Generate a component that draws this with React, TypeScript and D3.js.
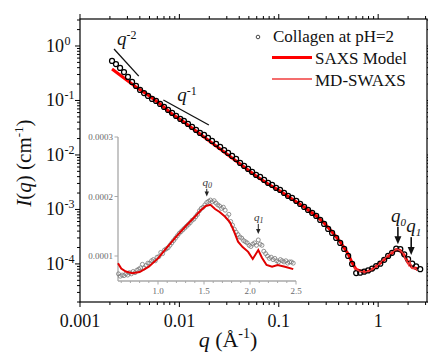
import * as d3 from "d3";
import React, { useEffect, useRef } from "react";

const W = 428;
const H = 353;

// experimental SAXS data, collagen at pH=2 (q in 1/A, I in 1/cm)
const expQ = [
  0.0021, 0.0023, 0.00253, 0.00277, 0.00304, 0.00334, 0.00366, 0.00402, 0.00441, 0.00484,
  0.00531, 0.00582, 0.00639, 0.00701, 0.00769, 0.00844, 0.00926, 0.0102, 0.0111, 0.0122,
  0.0134, 0.0147, 0.0161, 0.0177, 0.0194, 0.0213, 0.0234, 0.0257, 0.0282, 0.0309,
  0.0339, 0.0372, 0.0408, 0.0448, 0.0491, 0.0539, 0.0591, 0.0649, 0.0712, 0.0781,
  0.0857, 0.094, 0.103, 0.113, 0.124, 0.136, 0.15, 0.164, 0.18, 0.197,
  0.217, 0.238, 0.261, 0.286, 0.314, 0.344, 0.378, 0.415, 0.455, 0.499,
  0.547, 0.601, 0.659, 0.723, 0.793, 0.87, 0.955, 1.05, 1.15, 1.26,
  1.38, 1.52, 1.67, 1.83, 2.0, 2.2, 2.41, 2.65,
];
const expI = [
  0.531, 0.467, 0.395, 0.333, 0.27, 0.219, 0.185, 0.156, 0.137, 0.121,
  0.107, 0.0979, 0.0862, 0.076, 0.0669, 0.059, 0.0519, 0.0458, 0.0421, 0.0371,
  0.0326, 0.0288, 0.0253, 0.0233, 0.0205, 0.0181, 0.0159, 0.014, 0.0123, 0.0109,
  0.00959, 0.00845, 0.00713, 0.00628, 0.00553, 0.00488, 0.0043, 0.00395, 0.00348, 0.00306,
  0.00281, 0.00248, 0.00228, 0.00201, 0.00177, 0.00163, 0.00143, 0.00126, 0.00111, 0.000979,
  0.000862, 0.00076, 0.000642, 0.000542, 0.000439, 0.000371, 0.0003, 0.000243, 0.000188, 0.00014,
  0.0001, 0.000068, 0.000069, 0.000072, 0.000076, 0.000082, 0.000091, 0.000101, 0.000119, 0.00014,
  0.00016, 0.00019, 0.000186, 0.00015, 0.000122, 0.000101, 0.00009, 0.00008,
];

// SAXS model curve
const saxsQ = [
  0.0021, 0.00277, 0.00366, 0.00484, 0.00639, 0.00844, 0.0111, 0.0147, 0.0194, 0.0257,
  0.0339, 0.0448, 0.0591, 0.0781, 0.103, 0.136, 0.18, 0.238, 0.286, 0.344,
  0.415, 0.499, 0.547, 0.601, 0.659, 0.723, 0.793, 0.87, 0.955, 1.05,
  1.15, 1.26, 1.38, 1.52, 1.67, 1.83, 2.0, 2.2, 2.41, 2.5,
];
const saxsI = [
  0.378, 0.259, 0.177, 0.126, 0.0862, 0.0565, 0.0403, 0.0276, 0.0188, 0.0129,
  0.00881, 0.00603, 0.00412, 0.00294, 0.00218, 0.00156, 0.00111, 0.00076, 0.000565, 0.000386,
  0.000254, 0.000153, 0.000105, 0.000079, 0.0000745, 0.0000715, 0.000073, 0.000079, 0.00009, 0.000103,
  0.00012, 0.000138, 0.00016, 0.000183, 0.000175, 0.000143, 0.000105, 0.000086, 0.000083, 0.000078,
];

// MD-SWAXS curve (wide angle part)
const mdQ = [
  0.565, 0.6, 0.65, 0.72, 0.8, 0.9, 1.0, 1.1, 1.2, 1.3,
  1.4, 1.46, 1.52, 1.57, 1.62, 1.67, 1.73, 1.78, 1.82, 1.87,
  1.92, 1.98, 2.03, 2.09, 2.13, 2.18, 2.24, 2.3, 2.38, 2.47,
];
const mdI = [
  0.88e-4, 0.79e-4, 0.74e-4, 0.71e-4, 0.73e-4, 0.82e-4, 0.96e-4, 1.15e-4, 1.33e-4, 1.5e-4,
  1.66e-4, 1.76e-4, 1.84e-4, 1.86e-4, 1.79e-4, 1.74e-4, 1.66e-4, 1.57e-4, 1.44e-4, 1.24e-4,
  1.15e-4, 1.07e-4, 0.95e-4, 1.1e-4, 0.97e-4, 0.85e-4, 0.82e-4, 0.85e-4, 0.82e-4, 0.78e-4,
];

// inset: experimental points on linear scale
const insetQ = [
  0.57, 0.59, 0.61, 0.63, 0.65, 0.67, 0.69, 0.71, 0.73, 0.75,
  0.77, 0.79, 0.81, 0.83, 0.85, 0.87, 0.89, 0.91, 0.93, 0.95,
  0.97, 0.99, 1.01, 1.03, 1.05, 1.07, 1.09, 1.11, 1.13, 1.15,
  1.17, 1.19, 1.21, 1.23, 1.25, 1.27, 1.29, 1.31, 1.33, 1.35,
  1.37, 1.39, 1.41, 1.43, 1.45, 1.47, 1.49, 1.51, 1.53, 1.55,
  1.57, 1.59, 1.61, 1.63, 1.65, 1.67, 1.69, 1.71, 1.73, 1.75,
  1.77, 1.79, 1.81, 1.83, 1.85, 1.87, 1.89, 1.91, 1.93, 1.95,
  1.97, 1.99, 2.01, 2.03, 2.05, 2.07, 2.09, 2.11, 2.13, 2.15,
  2.17, 2.19, 2.21, 2.23, 2.25, 2.27, 2.29, 2.31, 2.33, 2.35,
  2.37, 2.39, 2.41, 2.43, 2.45, 2.47,
];
const insetI = [
  0.7e-4, 0.66e-4, 0.68e-4, 0.67e-4, 0.7e-4, 0.68e-4, 0.72e-4, 0.7e-4, 0.74e-4, 0.72e-4,
  0.76e-4, 0.78e-4, 0.8e-4, 0.86e-4, 0.8e-4, 0.84e-4, 0.88e-4, 0.88e-4, 0.92e-4, 0.94e-4,
  0.92e-4, 0.98e-4, 0.99e-4, 1.06e-4, 1.04e-4, 1.1e-4, 1.12e-4, 1.14e-4, 1.18e-4, 1.22e-4,
  1.26e-4, 1.3e-4, 1.34e-4, 1.38e-4, 1.41e-4, 1.44e-4, 1.47e-4, 1.5e-4, 1.53e-4, 1.56e-4,
  1.6e-4, 1.62e-4, 1.66e-4, 1.7e-4, 1.76e-4, 1.8e-4, 1.82e-4, 1.86e-4, 1.9e-4, 1.92e-4,
  1.94e-4, 1.91e-4, 1.93e-4, 1.89e-4, 1.86e-4, 1.84e-4, 1.8e-4, 1.82e-4, 1.77e-4, 1.66e-4,
  1.7e-4, 1.58e-4, 1.52e-4, 1.45e-4, 1.4e-4, 1.36e-4, 1.32e-4, 1.3e-4, 1.26e-4, 1.24e-4,
  1.22e-4, 1.18e-4, 1.16e-4, 1.2e-4, 1.22e-4, 1.18e-4, 1.27e-4, 1.2e-4, 1.18e-4, 1.08e-4,
  1.04e-4, 1.0e-4, 0.96e-4, 0.98e-4, 0.94e-4, 0.96e-4, 0.92e-4, 0.9e-4, 0.94e-4, 0.92e-4,
  0.9e-4, 0.92e-4, 0.88e-4, 0.9e-4, 0.9e-4, 0.88e-4,
];

const xTickVals = [0.001, 0.01, 0.1, 1];
const xTickLabels = ["0.001", "0.01", "0.1", "1"];
const yTickExps = [0, -1, -2, -3, -4];
const insetXTicks = [1.0, 1.5, 2.0, 2.5];
const insetYTicks = [0.0001, 0.0002, 0.0003];
const legendLabels = ["Collagen at pH=2", "SAXS Model", "MD-SWAXS"];

// power law guides
const guideExp = [-2, -1];
const guideQ0 = [0.0022, 0.0069];
const guideQ1 = [0.0039, 0.0198];
const guideI0 = [0.88, 0.102];

// peak markers q0, q1
const peakNames = ["0", "1"];
const mainPeakQ = [1.58, 2.15];
const mainTailI = [4.8e-4, 3.1e-4];
const mainTipI = [2.3e-4, 1.46e-4];
const insetPeakQ = [1.53, 2.09];
const insetTailI = [2.13e-4, 1.54e-4];
const insetTipI = [2.0e-4, 1.37e-4];

const FONT = "'Liberation Serif', 'Times New Roman', serif";

export default function App() {
  const ref = useRef<SVGSVGElement>(null);

  useEffect(() => {
    const svg = d3.select(ref.current);
    svg.selectAll("*").remove();
    svg.attr("font-family", FONT);

    const L = 80, R = 427, T = 19, B = 302;
    const x = d3.scaleLog().domain([0.001, 3.1]).range([L, R]);
    const y = d3.scaleLog().domain([2.0e-5, 3.13]).range([B, T]);

    const isMajor = (v: number) =>
      Math.abs(Math.log10(v) - Math.round(Math.log10(v))) < 1e-6;

    // ticks on all four sides, outward
    const ticks = svg.append("g").attr("stroke", "#000").attr("stroke-width", 1);
    x.ticks().forEach((v) => {
      const len = isMajor(v) ? 5 : 3;
      const px = x(v);
      ticks.append("line").attr("x1", px).attr("x2", px).attr("y1", B).attr("y2", B + len);
      ticks.append("line").attr("x1", px).attr("x2", px).attr("y1", T).attr("y2", T - len);
    });
    y.ticks().forEach((v) => {
      const len = isMajor(v) ? 5 : 3;
      const py = y(v);
      ticks.append("line").attr("y1", py).attr("y2", py).attr("x1", L).attr("x2", L - len);
      ticks.append("line").attr("y1", py).attr("y2", py).attr("x1", R).attr("x2", R + len);
    });

    svg
      .append("rect")
      .attr("x", L)
      .attr("y", T)
      .attr("width", R - L)
      .attr("height", B - T)
      .attr("fill", "none")
      .attr("stroke", "#000")
      .attr("stroke-width", 1.2);

    // tick labels
    xTickVals.forEach((v, i) => {
      svg
        .append("text")
        .attr("x", x(v))
        .attr("y", 327)
        .attr("text-anchor", "middle")
        .attr("font-size", 18)
        .attr("fill", "#111")
        .text(xTickLabels[i]);
    });
    yTickExps.forEach((e) => {
      const py = y(Math.pow(10, e));
      svg
        .append("text")
        .attr("x", 64)
        .attr("y", py + 6)
        .attr("text-anchor", "end")
        .attr("font-size", 18)
        .attr("fill", "#111")
        .text("10");
      svg
        .append("text")
        .attr("x", 64.5)
        .attr("y", py - 1)
        .attr("font-size", 12)
        .attr("fill", "#111")
        .text(String(e));
    });

    // axis titles
    const xt = svg
      .append("text")
      .attr("x", 228)
      .attr("y", 347)
      .attr("text-anchor", "middle")
      .attr("font-size", 22)
      .attr("fill", "#111");
    xt.append("tspan").attr("font-style", "italic").text("q");
    xt.append("tspan").text(" (Å");
    xt.append("tspan").attr("dy", -9).attr("font-size", 14).text("-1");
    xt.append("tspan").attr("dy", 9).text(")");

    const yt = svg
      .append("text")
      .attr("transform", "translate(31,163) rotate(-90)")
      .attr("text-anchor", "middle")
      .attr("font-size", 21)
      .attr("fill", "#111");
    yt.append("tspan").attr("font-style", "italic").text("I");
    yt.append("tspan").text("(");
    yt.append("tspan").attr("font-style", "italic").text("q");
    yt.append("tspan").text(") (cm");
    yt.append("tspan").attr("dy", -8).attr("font-size", 13).text("-1");
    yt.append("tspan").attr("dy", 8).text(")");

    // main curves
    const lineMain = d3
      .line<[number, number]>()
      .x((d) => x(d[0]))
      .y((d) => y(d[1]));

    const saxs = saxsQ.map((q, i) => [q, saxsI[i]] as [number, number]);
    const md = mdQ.map((q, i) => [q, mdI[i]] as [number, number]);
    const exp = expQ.map((q, i) => [q, expI[i]] as [number, number]);

    svg
      .append("path")
      .attr("d", lineMain(saxs))
      .attr("fill", "none")
      .attr("stroke", "#ff0000")
      .attr("stroke-width", 3);

    svg
      .append("g")
      .selectAll("circle")
      .data(exp)
      .enter()
      .append("circle")
      .attr("cx", (d) => x(d[0]))
      .attr("cy", (d) => y(d[1]))
      .attr("r", 2.5)
      .attr("fill", "none")
      .attr("stroke", "#000")
      .attr("stroke-width", 1.25);

    svg
      .append("path")
      .attr("d", lineMain(md))
      .attr("fill", "none")
      .attr("stroke", "#f03c3c")
      .attr("stroke-width", 1.3);

    // power-law guides
    const guideLbl = [
      { dx: 3, dy: -4 },
      { dx: 14, dy: 1 },
    ];
    guideExp.forEach((ex, i) => {
      const q0 = guideQ0[i], q1 = guideQ1[i];
      const i0 = guideI0[i];
      const i1 = i0 * Math.pow(q1 / q0, ex);
      svg
        .append("line")
        .attr("x1", x(q0))
        .attr("y1", y(i0))
        .attr("x2", x(q1))
        .attr("y2", y(i1))
        .attr("stroke", "#111")
        .attr("stroke-width", 1.3);
      const t = svg
        .append("text")
        .attr("x", x(q0) + guideLbl[i].dx)
        .attr("y", y(i0) + guideLbl[i].dy)
        .attr("font-size", 19)
        .attr("fill", "#111");
      t.append("tspan").attr("font-style", "italic").text("q");
      t.append("tspan").attr("dy", -6).attr("font-size", 12).text(String(ex));
    });

    // arrows helper
    const arrow = (
      px: number,
      y1: number,
      y2: number,
      hw: number,
      hl: number,
      sw: number,
      color: string
    ) => {
      svg
        .append("line")
        .attr("x1", px)
        .attr("x2", px)
        .attr("y1", y1)
        .attr("y2", y2 - hl + 1)
        .attr("stroke", color)
        .attr("stroke-width", sw);
      svg
        .append("path")
        .attr("d", `M${px - hw},${y2 - hl}L${px + hw},${y2 - hl}L${px},${y2}Z`)
        .attr("fill", color);
    };

    // main q0, q1 markers
    const peakDx = [-7, -5];
    peakNames.forEach((n, i) => {
      const px = x(mainPeakQ[i]);
      const ty = y(mainTailI[i]);
      arrow(px, ty, y(mainTipI[i]), 3.5, 8, 1.6, "#111");
      const t = svg
        .append("text")
        .attr("x", px + peakDx[i])
        .attr("y", ty - 5)
        .attr("font-size", 19)
        .attr("font-style", "italic")
        .attr("fill", "#111");
      t.append("tspan").text("q");
      t.append("tspan").attr("dy", 4).attr("font-size", 11).text(n);
    });

    // legend
    const lg = svg.append("g").attr("font-size", 17).attr("fill", "#111");
    lg.append("circle")
      .attr("cx", 258)
      .attr("cy", 37)
      .attr("r", 1.8)
      .attr("fill", "none")
      .attr("stroke", "#333")
      .attr("stroke-width", 0.9);
    lg.append("text").attr("x", 273).attr("y", 42).text(legendLabels[0]);
    lg.append("line")
      .attr("x1", 272)
      .attr("x2", 312)
      .attr("y1", 57.5)
      .attr("y2", 57.5)
      .attr("stroke", "#ff0000")
      .attr("stroke-width", 3);
    lg.append("text").attr("x", 315).attr("y", 64).text(legendLabels[1]);
    lg.append("line")
      .attr("x1", 272)
      .attr("x2", 312)
      .attr("y1", 79)
      .attr("y2", 79)
      .attr("stroke", "#f03c3c")
      .attr("stroke-width", 1.6);
    lg.append("text").attr("x", 315).attr("y", 85.5).text(legendLabels[2]);

    // inset
    const IL = 118, IR = 296, IT = 137, IB = 281;
    const ix = d3.scaleLinear().domain([0.565, 2.5]).range([IL, IR]);
    const iy = d3.scaleLinear().domain([0.58e-4, 3e-4]).range([IB, IT]);
    const ig = svg.append("g");
    const gray = "#a8a8a8";

    ig.append("line").attr("x1", IL).attr("x2", IL).attr("y1", IT).attr("y2", IB)
      .attr("stroke", gray).attr("stroke-width", 1.3);
    ig.append("line").attr("x1", IL).attr("x2", IR).attr("y1", IB).attr("y2", IB)
      .attr("stroke", gray).attr("stroke-width", 1.3);

    ix.ticks(20).forEach((v) => {
      const major = insetXTicks.some((m) => Math.abs(m - v) < 1e-6);
      ig.append("line")
        .attr("x1", ix(v))
        .attr("x2", ix(v))
        .attr("y1", IB)
        .attr("y2", IB + (major ? 3.5 : 2))
        .attr("stroke", gray)
        .attr("stroke-width", 1);
    });
    insetXTicks.forEach((v) => {
      ig.append("text")
        .attr("x", ix(v))
        .attr("y", IB + 13)
        .attr("text-anchor", "middle")
        .attr("font-size", 9)
        .attr("fill", "#6a6a6a")
        .text(d3.format(".1f")(v));
    });
    insetYTicks.forEach((v) => {
      ig.append("line")
        .attr("x1", IL)
        .attr("x2", IL - 3.5)
        .attr("y1", iy(v))
        .attr("y2", iy(v))
        .attr("stroke", gray)
        .attr("stroke-width", 1);
      ig.append("text")
        .attr("x", IL - 5)
        .attr("y", iy(v) + 3)
        .attr("text-anchor", "end")
        .attr("font-size", 9)
        .attr("fill", "#6a6a6a")
        .text(String(v.toFixed(4)));
    });

    const insetPts = insetQ.map((q, i) => [q, insetI[i]] as [number, number]);
    ig.append("g")
      .selectAll("circle")
      .data(insetPts)
      .enter()
      .append("circle")
      .attr("cx", (d) => ix(d[0]))
      .attr("cy", (d) => iy(d[1]))
      .attr("r", 2)
      .attr("fill", "none")
      .attr("stroke", "#7a7a7a")
      .attr("stroke-width", 0.8);

    const lineInset = d3
      .line<[number, number]>()
      .x((d) => ix(d[0]))
      .y((d) => iy(d[1]));
    ig.append("path")
      .attr("d", lineInset(md))
      .attr("fill", "none")
      .attr("stroke", "#e00000")
      .attr("stroke-width", 2);

    peakNames.forEach((n, i) => {
      const px = ix(insetPeakQ[i]);
      const ty = iy(insetTailI[i]);
      arrow(px, ty, iy(insetTipI[i]), 2.2, 5, 1, "#222");
      const t = ig
        .append("text")
        .attr("x", px + 0.5)
        .attr("y", ty - 3)
        .attr("text-anchor", "middle")
        .attr("font-size", 11)
        .attr("font-style", "italic")
        .attr("fill", "#333");
      t.append("tspan").text("q");
      t.append("tspan").attr("dy", 2.5).attr("font-size", 8).text(n);
    });
  }, []);

  return (
    <svg
      ref={ref}
      width={W}
      height={H}
      style={{ position: "absolute", left: 0, top: 0, background: "#fff" }}
    />
  );
}
